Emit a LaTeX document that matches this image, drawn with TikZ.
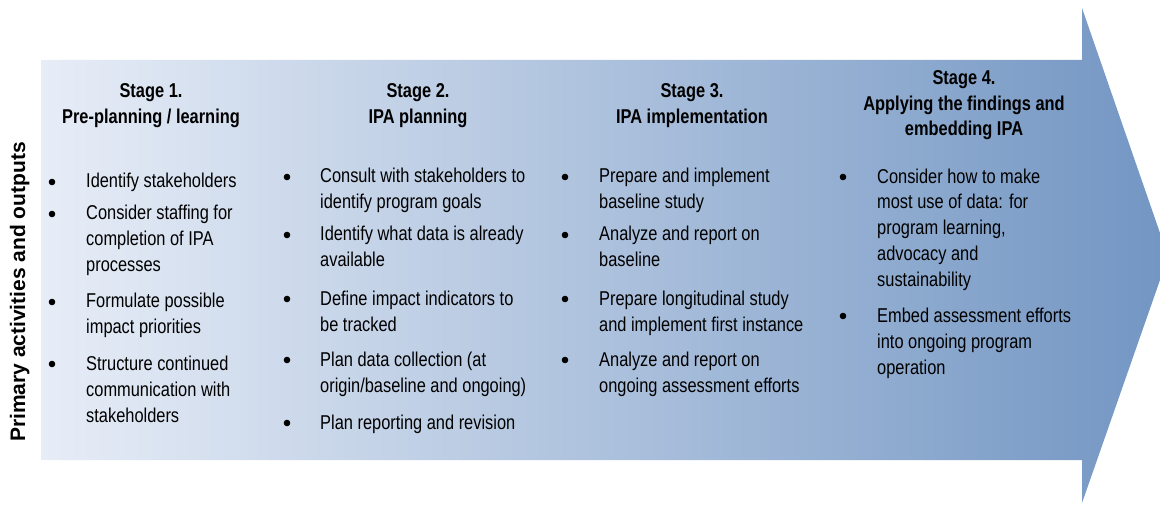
\documentclass[tikz,border=0pt]{standalone}
\usepackage{fontspec}
\setmainfont{Liberation Sans}[FakeStretch=0.82]
\newfontfamily\sidefont{Liberation Sans}
\definecolor{arrowL}{RGB}{231,237,247}
\definecolor{arrowR}{RGB}{115,150,195}
% note: for multi-line nodes the base anchor is the baseline of the LAST line
\tikzset{
  itemtxt/.style={anchor=base west, align=left, inner sep=0pt, font=\fontsize{20}{26}\selectfont},
  hdr/.style={anchor=base, align=center, inner sep=0pt, font=\bfseries\fontsize{20}{25.5}\selectfont},
  bul/.style={circle, fill=black, inner sep=0pt, minimum size=6.6pt},
}
\begin{document}
\begin{tikzpicture}[x=1pt,y=-1pt]
\useasboundingbox (0,0) rectangle (1160,505);
% big arrow
\path[left color=arrowL, right color=arrowR]
  (41,60) -- (1082,60) -- (1082,8) -- (1160,233) -- (1160,280) -- (1082,503) -- (1082,460) -- (41,460) -- cycle;

% side label
\node[rotate=90, anchor=base, inner sep=0pt, font=\sidefont\bfseries\fontsize{21}{25}\selectfont] (side) at (25,292) {Primary activities and outputs};

% headers (positions = baseline of last line)
\node[hdr] (h1) at (151,123.5) {Stage 1.\\Pre-planning / learning};
\node[hdr] (h2) at (418,123.5) {Stage 2.\\IPA planning};
\node[hdr] (h3) at (692,123.5) {Stage 3.\\IPA implementation};
\node[hdr] (h4) at (964,136) {Stage 4.\\Applying the findings and\\embedding IPA};

% column 1
\node[bul] (b11) at (52,182) {};
\node[itemtxt] (i11) at (86,188) {Identify stakeholders};
\node[bul] (b12) at (52,214) {};
\node[itemtxt] (i12) at (86,272) {Consider staffing for\\completion of IPA\\processes};
\node[bul] (b13) at (52,302) {};
\node[itemtxt] (i13) at (86,334) {Formulate possible\\impact priorities};
\node[bul] (b14) at (52,364) {};
\node[itemtxt] (i14) at (86,422) {Structure continued\\communication with\\stakeholders};

% column 2
\node[bul] (b21) at (287,177) {};
\node[itemtxt] (i21) at (320,209) {Consult with stakeholders to\\identify program goals};
\node[bul] (b22) at (287,235) {};
\node[itemtxt] (i22) at (320,267) {Identify what data is already\\available};
\node[bul] (b23) at (287,299) {};
\node[itemtxt] (i23) at (320,331) {Define impact indicators to\\be tracked};
\node[bul] (b24) at (287,360) {};
\node[itemtxt] (i24) at (320,392) {Plan data collection (at\\origin/baseline and ongoing)};
\node[bul] (b25) at (287,423) {};
\node[itemtxt] (i25) at (320,429) {Plan reporting and revision};

% column 3
\node[bul] (b31) at (565,177) {};
\node[itemtxt] (i31) at (599,209) {Prepare and implement\\baseline study};
\node[bul] (b32) at (565,235) {};
\node[itemtxt] (i32) at (599,267) {Analyze and report on\\baseline};
\node[bul] (b33) at (565,299) {};
\node[itemtxt] (i33) at (599,331) {Prepare longitudinal study\\and implement first instance};
\node[bul] (b34) at (565,360) {};
\node[itemtxt] (i34) at (599,392) {Analyze and report on\\ongoing assessment efforts};

% column 4
\node[bul] (b41) at (843,177) {};
\node[itemtxt, font=\fontsize{20}{25.8}\selectfont] (i41) at (877,286.2) {Consider how to make\\most use of data: for\\program learning,\\advocacy and\\sustainability};
\node[bul] (b42) at (843,316) {};
\node[itemtxt] (i42) at (877,374) {Embed assessment efforts\\into ongoing program\\operation};
\end{tikzpicture}
\end{document}
